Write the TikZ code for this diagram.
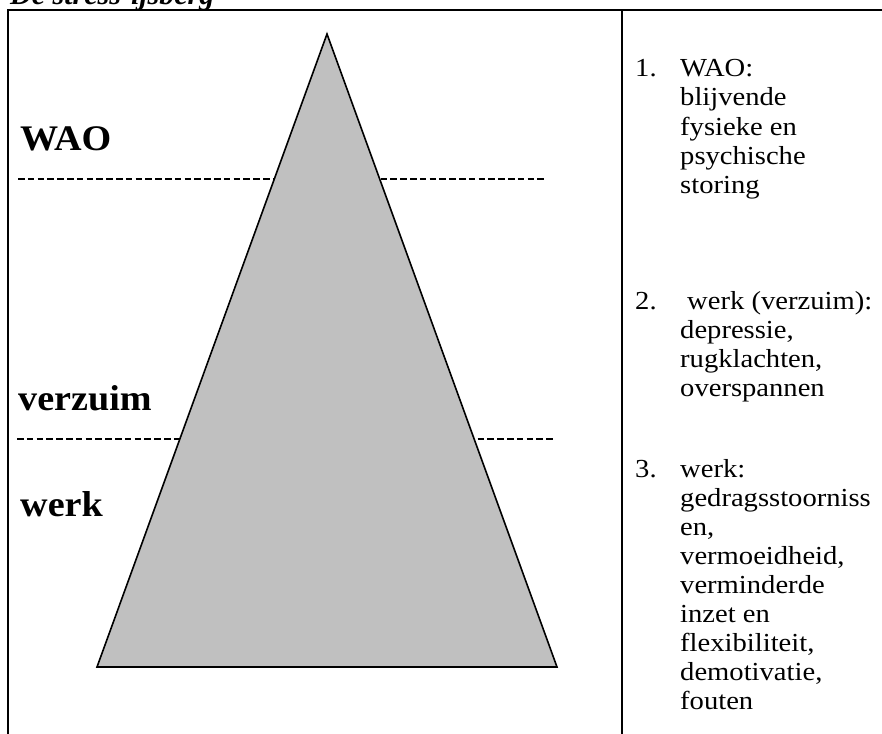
\documentclass[tikz,border=0pt]{standalone}
\usepackage{fontspec}
\usepackage{graphicx}
\setmainfont{Liberation Serif}
\definecolor{icegray}{HTML}{C0C0C0}
\newcommand{\rtx}[1]{\scalebox{1.1}[1]{#1}}
\newcommand{\lbx}[1]{\scalebox{1.06}[1]{#1}}
\begin{document}
\begin{tikzpicture}[x=1pt,y=-1pt,
  frame/.style={line width=2pt},
  dashline/.style={line width=2pt, dash pattern=on 6.5pt off 3.3pt},
  berg/.style={fill=icegray, draw=black, line width=1.6pt, line join=miter},
  lbl/.style={anchor=base west, inner sep=0pt, font=\bfseries\fontsize{36}{40}\selectfont},
  rt/.style={anchor=base west, inner sep=0pt, font=\fontsize{26}{30}\selectfont},
  ttl/.style={anchor=base west, inner sep=0pt, font=\bfseries\itshape\fontsize{30}{30}\selectfont}]
\useasboundingbox (0,0) rectangle (882,733);
% title (cut off at the top)
\node[ttl] (title) at (10,5) {De stress-ijsberg};
% frame
\coordinate (fbl) at (8,740);
\coordinate (ftl) at (8,10);
\coordinate (ftr) at (890,10);
\coordinate (dtop) at (622,10);
\coordinate (dbot) at (622,740);
\draw[frame] (fbl) -- (ftl) -- (ftr);
\draw[frame] (dtop) -- (dbot);
% dashed water lines
\coordinate (d1a) at (18,179);
\coordinate (d1b) at (545,179);
\coordinate (d2a) at (17,439);
\coordinate (d2b) at (554,439);
\draw[dashline] (d1a) -- (d1b);
\draw[dashline] (d2a) -- (d2b);
% iceberg
\coordinate (apex) at (327,34);
\coordinate (br) at (557,667);
\coordinate (bl) at (97,667);
\draw[berg] (apex) -- (br) -- (bl) -- cycle;
% left labels
\node[lbl] (wao) at (20,150) {\lbx{WAO}};
\node[lbl] (verz) at (18,410) {\lbx{verzuim}};
\node[lbl] (werk) at (20,516) {\lbx{werk}};
% right column
\node[rt] (n1) at (635,77) {\rtx{1.}};
\node[rt] (a1) at (680,77) {\rtx{WAO:}};
\node[rt] (a2) at (680,106) {\rtx{blijvende}};
\node[rt] (a3) at (680,135) {\rtx{fysieke en}};
\node[rt] (a4) at (680,164) {\rtx{psychische}};
\node[rt] (a5) at (680,193) {\rtx{storing}};
\node[rt] (n2) at (635,309) {\rtx{2.}};
\node[rt] (b1) at (687,309) {\rtx{werk (verzuim):}};
\node[rt] (b2) at (680,338) {\rtx{depressie,}};
\node[rt] (b3) at (680,367) {\rtx{rugklachten,}};
\node[rt] (b4) at (680,396) {\rtx{overspannen}};
\node[rt] (n3) at (635,477) {\rtx{3.}};
\node[rt] (c1) at (680,477) {\rtx{werk:}};
\node[rt] (c2) at (680,506) {\rtx{gedragsstoorniss}};
\node[rt] (c3) at (680,535) {\rtx{en,}};
\node[rt] (c4) at (680,564) {\rtx{vermoeidheid,}};
\node[rt] (c5) at (680,593) {\rtx{verminderde}};
\node[rt] (c6) at (680,622) {\rtx{inzet en}};
\node[rt] (c7) at (680,651) {\rtx{flexibiliteit,}};
\node[rt] (c8) at (680,680) {\rtx{demotivatie,}};
\node[rt] (c9) at (680,709) {\rtx{fouten}};
\end{tikzpicture}
\end{document}
